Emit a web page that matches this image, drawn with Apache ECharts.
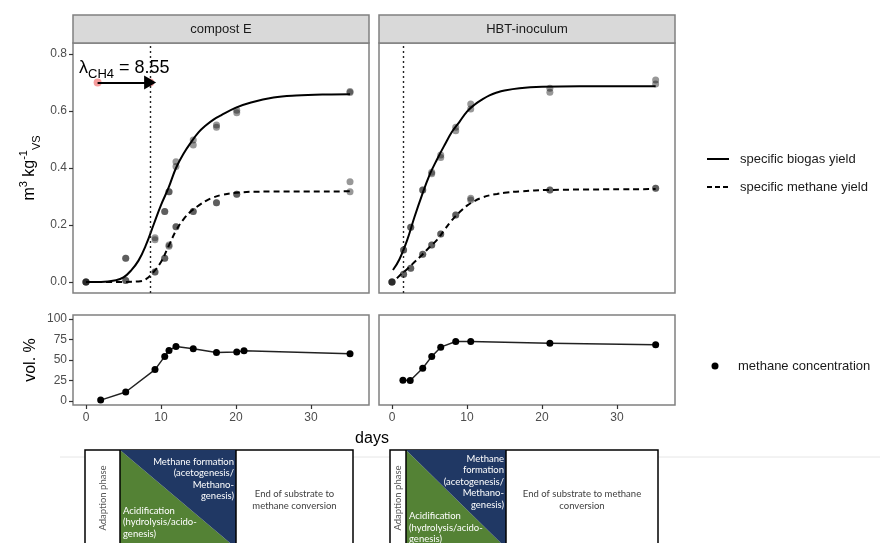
<!DOCTYPE html>
<html>
<head>
<meta charset="utf-8">
<script src="https://cdn.jsdelivr.net/npm/echarts@6/dist/echarts.min.js"></script>
<style>
  html, body { margin: 0; padding: 0; background: #fff; }
  #main { width: 880px; height: 543px; }
</style>
</head>
<body>
<div id="main"></div>
<script>
// compost E - measured yields (two replicates), m3/kg VS
const daysCE = [0, 5.3, 9.2, 10.5, 11.07, 12, 14.3, 17.4, 20.1, 35.2];
const biogasCE_a = [0, 0.083, 0.155, 0.247, 0.317, 0.422, 0.498, 0.551, 0.603, 0.668];
const biogasCE_b = [0, 0.083, 0.148, 0.247, 0.317, 0.405, 0.481, 0.543, 0.594, 0.665];
const methaneCE_a = [0, 0.005, 0.035, 0.083, 0.13, 0.194, 0.247, 0.278, 0.308, 0.352];
const methaneCE_b = [0, 0.005, 0.035, 0.083, 0.125, 0.194, 0.247, 0.278, 0.308, 0.317];

// HBT-inoculum - measured yields
const daysHBT = [0, 1.55, 2.5, 4.1, 5.3, 6.5, 8.5, 10.5, 21.05, 35.15];
const biogasHBT_a = [0, 0.112, 0.192, 0.323, 0.385, 0.446, 0.543, 0.625, 0.68, 0.709];
const biogasHBT_b = [0, 0.112, 0.192, 0.323, 0.38, 0.437, 0.531, 0.607, 0.666, 0.695];
const methaneHBT_a = [0, 0.027, 0.048, 0.097, 0.13, 0.168, 0.235, 0.294, 0.323, 0.329];
const methaneHBT_b = [0, 0.027, 0.048, 0.097, 0.13, 0.168, 0.235, 0.288, 0.323, 0.329];

// fitted curves
const fitBiogasCE_days = [0, 2, 4, 5, 6, 7, 8, 9, 10, 11, 12, 13, 14, 15, 16, 17, 18, 20, 22, 25, 28, 32, 35.2];
const fitBiogasCE = [0, 0, 0.006, 0.016, 0.04, 0.075, 0.13, 0.2, 0.27, 0.33, 0.4, 0.45, 0.49, 0.525, 0.55, 0.57, 0.585, 0.612, 0.63, 0.647, 0.654, 0.658, 0.659];
const fitMethaneCE_days = [0, 4, 7, 8, 9, 10, 11, 12, 13, 14, 15, 16, 17, 18, 20, 23, 35.2];
const fitMethaneCE = [0, 0, 0.002, 0.01, 0.035, 0.07, 0.125, 0.18, 0.22, 0.248, 0.268, 0.285, 0.297, 0.305, 0.313, 0.317, 0.318];
const fitBiogasHBT_days = [0.13, 1, 2, 3, 4, 5, 6, 7, 8, 9, 10, 11, 12, 13, 14, 15, 17, 20, 25, 35.15];
const fitBiogasHBT = [0.042, 0.08, 0.145, 0.228, 0.305, 0.375, 0.43, 0.48, 0.527, 0.562, 0.598, 0.622, 0.64, 0.655, 0.665, 0.672, 0.68, 0.685, 0.687, 0.687];
const fitMethaneHBT_days = [0.66, 1, 2, 3, 4, 5, 6, 7, 8, 9, 10, 11, 12, 13, 14, 15, 17, 21, 35.15];
const fitMethaneHBT = [0.013, 0.022, 0.045, 0.07, 0.095, 0.122, 0.148, 0.183, 0.217, 0.245, 0.268, 0.284, 0.296, 0.304, 0.309, 0.313, 0.318, 0.323, 0.326];

// methane concentration, vol. %
const concDaysCE = [1.96, 5.3, 9.2, 10.5, 11.07, 12, 14.3, 17.4, 20.1, 21.07, 35.2];
const concCE = [1, 10.9, 38.3, 54.4, 61.7, 66.5, 63.7, 59.3, 59.7, 61.3, 57.7];
const concDaysHBT = [1.46, 2.43, 4.1, 5.3, 6.5, 8.5, 10.5, 21.05, 35.15];
const concHBT = [25.4, 25, 40, 54.4, 65.7, 72.6, 72.6, 70.6, 68.5];

// lag phases
const lambdaCE = 8.55;
const lambdaHBT = 1.55;
const lambdaY = 0.7;

const dayTicks = [0, 10, 20, 30];
const yieldTicks = [0, 0.2, 0.4, 0.6, 0.8];
const volTicks = [0, 25, 50, 75, 100];
const facets = ['compost E', 'HBT-inoculum'];

const pairs = (xs, ys) => xs.map((x, i) => [x, ys[i]]);
const FONT = 'Liberation Sans';

const chart = echarts.init(document.getElementById('main'));

function xAx(grid, labels) {
  return {
    type: 'value', gridIndex: grid, min: -1.73, max: 37.73,
    splitLine: { show: false }, axisLine: { show: false, onZero: false },
    axisTick: { show: labels, customValues: dayTicks, length: 4, lineStyle: { color: '#333', width: 1.2 } },
    axisLabel: { show: labels, customValues: dayTicks, margin: 7, color: '#4d4d4d', fontSize: 12, fontFamily: FONT }
  };
}
function yAx(grid, labels, top) {
  const ticks = top ? yieldTicks : volTicks;
  return {
    type: 'value', gridIndex: grid,
    min: top ? -0.0386 : -5, max: top ? 0.8386 : 105,
    splitLine: { show: false }, axisLine: { show: false, onZero: false },
    axisTick: { show: labels, customValues: ticks, length: 4, lineStyle: { color: '#333', width: 1.2 } },
    axisLabel: {
      show: labels, customValues: ticks, margin: 6, color: '#4d4d4d', fontSize: 12, fontFamily: FONT,
      formatter: v => top ? v.toFixed(1) : String(v)
    }
  };
}

const pointStyle = { color: 'rgba(20,20,20,0.55)' };
function yieldSeries(g, days, bA, bB, mA, mB, fbD, fb, fmD, fm, lambda) {
  return [
    {
      type: 'scatter', xAxisIndex: g, yAxisIndex: g, symbolSize: 7, itemStyle: pointStyle,
      data: pairs(days, bA).concat(pairs(days, bB), pairs(days, mA), pairs(days, mB))
    },
    {
      type: 'line', xAxisIndex: g, yAxisIndex: g, showSymbol: false, smooth: 0.4,
      lineStyle: { color: '#000', width: 2 }, data: pairs(fbD, fb),
      markLine: {
        silent: true, symbol: 'none', label: { show: false },
        lineStyle: { type: [2, 3], color: '#222', width: 1.4 },
        data: [{ xAxis: lambda }]
      }
    },
    {
      type: 'line', xAxisIndex: g, yAxisIndex: g, showSymbol: false, smooth: 0.4,
      lineStyle: { color: '#000', width: 2, type: [6, 4] }, data: pairs(fmD, fm)
    }
  ];
}

const series = [].concat(
  yieldSeries(0, daysCE, biogasCE_a, biogasCE_b, methaneCE_a, methaneCE_b,
    fitBiogasCE_days, fitBiogasCE, fitMethaneCE_days, fitMethaneCE, lambdaCE),
  yieldSeries(1, daysHBT, biogasHBT_a, biogasHBT_b, methaneHBT_a, methaneHBT_b,
    fitBiogasHBT_days, fitBiogasHBT, fitMethaneHBT_days, fitMethaneHBT, lambdaHBT),
  [
    {
      type: 'scatter', xAxisIndex: 0, yAxisIndex: 0, symbolSize: 8, z: 4,
      itemStyle: { color: 'rgba(240,90,90,0.75)' },
      data: [[lambdaHBT, lambdaY], [lambdaCE, lambdaY]],
      markLine: {
        silent: true, symbol: ['none', 'triangle'], symbolSize: [14, 12], label: { show: false },
        lineStyle: { type: 'solid', color: '#000', width: 2 },
        data: [[{ coord: [lambdaHBT, lambdaY] }, { coord: [lambdaCE, lambdaY] }]]
      }
    },
    {
      type: 'line', xAxisIndex: 2, yAxisIndex: 2, symbol: 'circle', symbolSize: 7,
      itemStyle: { color: '#000' }, lineStyle: { color: '#222', width: 1.5 },
      data: pairs(concDaysCE, concCE)
    },
    {
      type: 'line', xAxisIndex: 3, yAxisIndex: 3, symbol: 'circle', symbolSize: 7,
      itemStyle: { color: '#000' }, lineStyle: { color: '#222', width: 1.5 },
      data: pairs(concDaysHBT, concHBT)
    }
  ]
);

const gridStyle = { show: true, borderColor: '#808080', borderWidth: 1.5, backgroundColor: '#fff' };

// graphic: strips, titles, legend, phase diagrams
const graphic = [];
[[73, facets[0]], [379, facets[1]]].forEach(([x, t]) => {
  graphic.push({ type: 'rect', shape: { x: x, y: 15, width: 296, height: 28 },
    style: { fill: '#d9d9d9', stroke: '#808080', lineWidth: 1.5 } });
  graphic.push({ type: 'text', x: x + 148, y: 29,
    style: { text: t, align: 'center', verticalAlign: 'middle', font: '13px ' + FONT, fill: '#1a1a1a' } });
});
graphic.push({ type: 'text', x: 372, y: 439,
  style: { text: 'days', align: 'center', verticalAlign: 'middle', font: '16px ' + FONT, fill: '#000' } });
graphic.push({ type: 'text', x: 31, y: 360, rotation: Math.PI / 2,
  style: { text: 'vol. %', align: 'center', verticalAlign: 'middle', font: '16px ' + FONT, fill: '#000' } });
graphic.push({ type: 'text', x: 30, y: 168, rotation: Math.PI / 2,
  style: {
    text: '{n|m}{sup|3}{n| kg}{sup|-1}{sub|VS}', align: 'center', verticalAlign: 'middle',
    rich: {
      n: { fontSize: 16, fontFamily: FONT, fill: '#000', lineHeight: 24, verticalAlign: 'middle' },
      sup: { fontSize: 11, fontFamily: FONT, fill: '#000', verticalAlign: 'top' },
      sub: { fontSize: 11, fontFamily: FONT, fill: '#000', verticalAlign: 'bottom' }
    }
  } });
graphic.push({ type: 'text', x: 79, y: 68,
  style: {
    text: '{n|λ}{sub|CH4}{n| = ' + lambdaCE.toFixed(2) + '}', align: 'left', verticalAlign: 'middle',
    rich: {
      n: { fontSize: 18, fontFamily: FONT, fill: '#000', lineHeight: 26, verticalAlign: 'middle' },
      sub: { fontSize: 13, fontFamily: FONT, fill: '#000', verticalAlign: 'bottom' }
    }
  } });

// legend
graphic.push({ type: 'line', shape: { x1: 707, y1: 159, x2: 729, y2: 159 }, style: { stroke: '#000', lineWidth: 2 } });
graphic.push({ type: 'line', shape: { x1: 707, y1: 187, x2: 729, y2: 187 }, style: { stroke: '#000', lineWidth: 2, lineDash: [5, 3] } });
graphic.push({ type: 'circle', shape: { cx: 715, cy: 366, r: 3.5 }, style: { fill: '#000' } });
[['specific biogas yield', 740, 159], ['specific methane yield', 740, 187], ['methane concentration', 738, 366]].forEach(([t, x, y]) => {
  graphic.push({ type: 'text', x: x, y: y,
    style: { text: t, align: 'left', verticalAlign: 'middle', font: '13px ' + FONT, fill: '#1a1a1a' } });
});

// separator
graphic.push({ type: 'line', shape: { x1: 60, y1: 457, x2: 880, y2: 457 }, style: { stroke: '#e6e6e6', lineWidth: 1 } });

// phase diagrams
const DFONT = '9.5px Lato';
function diagram(bx, col, tri, bw, blueLines, blueY, greenLines, greenY, endLines) {
  graphic.push({ type: 'rect', shape: { x: bx, y: 450, width: bw, height: 100 },
    style: { fill: '#fff', stroke: '#000', lineWidth: 1.5 } });
  graphic.push({ type: 'polygon', shape: { points: [[col, 450], [col, 548], [tri, 548]] }, style: { fill: '#548235' } });
  graphic.push({ type: 'polygon', shape: { points: [[col, 450], [tri, 450], [tri, 548]] }, style: { fill: '#203864' } });
  graphic.push({ type: 'line', shape: { x1: col, y1: 450, x2: col, y2: 548 }, style: { stroke: '#000', lineWidth: 1.5 } });
  graphic.push({ type: 'line', shape: { x1: tri, y1: 450, x2: tri, y2: 548 }, style: { stroke: '#000', lineWidth: 1.5 } });
  graphic.push({ type: 'text', x: (bx + col) / 2, y: 498, rotation: Math.PI / 2,
    style: { text: 'Adaption phase', align: 'center', verticalAlign: 'middle', font: DFONT, fill: '#555' } });
  blueLines.forEach((t, i) => graphic.push({ type: 'text', x: tri - 2, y: blueY + i * 11.4,
    style: { text: t, align: 'right', verticalAlign: 'middle', font: DFONT, fill: '#fff' } }));
  greenLines.forEach((t, i) => graphic.push({ type: 'text', x: col + 3, y: greenY + i * 11.6,
    style: { text: t, align: 'left', verticalAlign: 'middle', font: DFONT, fill: '#fff' } }));
  endLines.forEach((t, i) => graphic.push({ type: 'text', x: (tri + bx + bw) / 2, y: 494 + i * 12,
    style: { text: t, align: 'center', verticalAlign: 'middle', font: DFONT, fill: '#404040' } }));
}
diagram(85, 120, 236, 268,
  ['Methane formation', '(acetogenesis/', 'Methano-', 'genesis)'], 461.7,
  ['Acidification', '(hydrolysis/acido-', 'genesis)'], 510.5,
  ['End of substrate to', 'methane conversion']);
diagram(390, 406, 506, 268,
  ['Methane', 'formation', '(acetogenesis/', 'Methano-', 'genesis)'], 459,
  ['Acidification', '(hydrolysis/acido-', 'genesis)'], 516,
  ['End of substrate to methane', 'conversion']);

chart.setOption({
  animation: false,
  backgroundColor: '#fff',
  textStyle: { fontFamily: FONT },
  grid: [
    Object.assign({ left: 73, top: 43, width: 296, height: 250 }, gridStyle),
    Object.assign({ left: 379, top: 43, width: 296, height: 250 }, gridStyle),
    Object.assign({ left: 73, top: 315, width: 296, height: 90 }, gridStyle),
    Object.assign({ left: 379, top: 315, width: 296, height: 90 }, gridStyle)
  ],
  xAxis: [xAx(0, false), xAx(1, false), xAx(2, true), xAx(3, true)],
  yAxis: [yAx(0, true, true), yAx(1, false, true), yAx(2, true, false), yAx(3, false, false)],
  series: series,
  graphic: graphic
});
</script>
</body>
</html>
